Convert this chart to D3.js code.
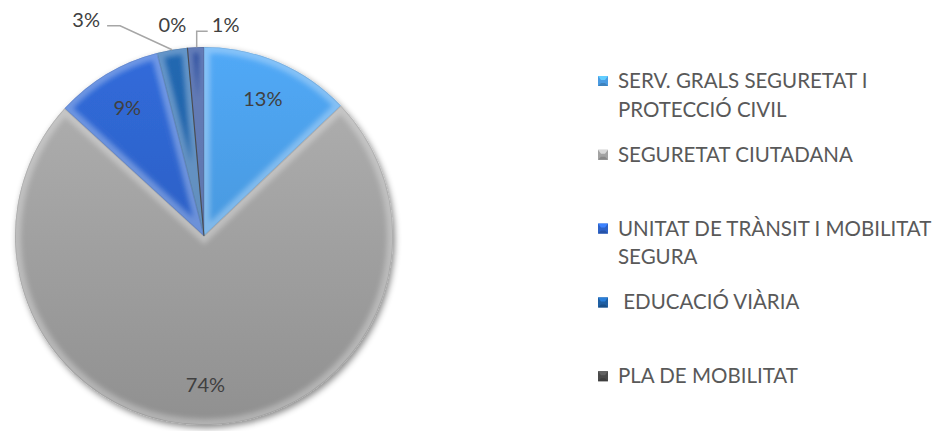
<!DOCTYPE html>
<meta charset="utf-8">
<head>
<style>
  body { margin: 0; background: #fff; }
  svg { display: block; font-family: Lato, "Open Sans", sans-serif; }
  .slice-label { fill: #404040; font-size: 20px; text-anchor: middle; }
  .legend text { fill: #595959; font-size: 20.5px; white-space: pre; }
  .leader { fill: none; stroke: #a6a6a6; stroke-width: 1.5px; }
</style>
</head>
<body>
<script src="https://d3js.org/d3.v7.min.js"></script>
<script>
// data
var categories = ["SERV. GRALS SEGURETAT I PROTECCIÓ CIVIL", "SEGURETAT CIUTADANA",
  "UNITAT DE TRÀNSIT I MOBILITAT SEGURA", " EDUCACIÓ VIÀRIA", "PLA DE MOBILITAT", ""];
var values = [12.9, 73.9, 9.2, 2.6, 0, 1.4];
var labels = ["13%", "74%", "9%", "3%", "0%", "1%"];
var colors = ["#4a9be2", "#a3a3a3", "#2d62c8", "#1f5fa3", "#4a4a4a", "#1c3d8c"];

var width = 944, height = 431;
var cx = 204, cy = 236, radius = 189;

// labels that Excel moved outside the pie: shift from the slice's outer edge
var outside = {
  3: { dx: -86, dy: -30, leader: true },
  4: { dx: -15, dy: -23, leader: false },
  5: { dx: 30, dy: -22, leader: true }
};

var svg = d3.select("body").append("svg")
    .attr("width", width)
    .attr("height", height);

var defs = svg.append("defs");

var shadow = defs.append("filter").attr("id", "shadow")
    .attr("x", "-10%").attr("y", "-10%").attr("width", "125%").attr("height", "125%");
shadow.append("feDropShadow")
    .attr("dx", 2).attr("dy", 3).attr("stdDeviation", 3)
    .attr("flood-color", "#000").attr("flood-opacity", 0.45);

var soft = defs.append("filter").attr("id", "soft");
soft.append("feGaussianBlur").attr("stdDeviation", 2.5);

colors.forEach(function(c, i) {
  var g = defs.append("linearGradient").attr("id", "grad" + i)
      .attr("gradientUnits", "userSpaceOnUse")
      .attr("x1", 0).attr("y1", -radius).attr("x2", 0).attr("y2", radius);
  g.append("stop").attr("offset", 0).attr("stop-color", d3.color(c).brighter(0.25));
  g.append("stop").attr("offset", 1).attr("stop-color", d3.color(c).darker(0.35));
});

var pie = d3.pie().sort(null).value(function(d) { return d; });
var arcs = pie(values);
var arc = d3.arc().innerRadius(0).outerRadius(radius);

var chart = svg.append("g")
    .attr("transform", "translate(" + cx + "," + cy + ")");

var slices = chart.append("g").attr("filter", "url(#shadow)");

arcs.forEach(function(a, i) {
  if (a.endAngle - a.startAngle <= 0) return;
  defs.append("clipPath").attr("id", "clip" + i)
    .append("path").attr("d", arc(a));
  slices.append("path")
      .attr("d", arc(a))
      .attr("fill", "url(#grad" + i + ")");
  // bevel: soft light rim inside each slice
  slices.append("g")
      .attr("clip-path", "url(#clip" + i + ")")
    .append("path")
      .attr("d", arc(a))
      .attr("filter", "url(#soft)")
      .attr("fill", "none")
      .attr("stroke", "#fff")
      .attr("stroke-opacity", 0.3)
      .attr("stroke-width", 12);
  slices.append("path")
      .attr("d", arc(a))
      .attr("clip-path", "url(#clip" + i + ")")
      .attr("fill", "none")
      .attr("stroke", "#000")
      .attr("stroke-opacity", 0.1)
      .attr("stroke-width", 1.5);
});

// zero-size slice still shows as a thin edge
arcs.forEach(function(a, i) {
  if (a.endAngle - a.startAngle > 0) return;
  var p = d3.pointRadial(a.startAngle, radius);
  chart.append("line")
      .attr("x1", 0).attr("y1", 0).attr("x2", p[0]).attr("y2", p[1])
      .attr("stroke", colors[i]).attr("stroke-width", 1);
});

// data labels
var labelArc = d3.arc().innerRadius(radius * 0.79).outerRadius(radius * 0.79);
arcs.forEach(function(a, i) {
  var mid = (a.startAngle + a.endAngle) / 2;
  var pos, o = outside[i];
  if (o) {
    var edge = d3.pointRadial(mid, radius);
    pos = [edge[0] + o.dx, edge[1] + o.dy];
    if (o.leader) {
      var pts;
      if (o.dx < 0) {
        pts = [edge, [pos[0] + 34, pos[1] + 6], [pos[0] + 21, pos[1] + 6]];
      } else {
        pts = [[edge[0] + 1, edge[1]], [edge[0] + 1, pos[1] + 6], [pos[0] - 18, pos[1] + 6]];
      }
      chart.append("path").attr("class", "leader").attr("d", d3.line()(pts));
    }
  } else {
    pos = labelArc.centroid(a);
  }
  chart.append("text")
      .attr("class", "slice-label")
      .attr("x", pos[0])
      .attr("y", pos[1])
      .attr("dy", "0.35em")
      .text(labels[i]);
});

// legend
var legend = svg.append("g").attr("class", "legend")
    .attr("transform", "translate(598,88)");
var step = 73.8, lineH = 28.5, maxW = 326;

categories.forEach(function(name, i) {
  if (!name) return;
  var row = legend.append("g").attr("transform", "translate(0," + (i * step) + ")");
  var c = d3.color(colors[i]);
  row.append("rect").attr("x", 0).attr("y", -12).attr("width", 10).attr("height", 10)
      .attr("fill", c.formatHex());
  row.append("path").attr("d", "M0,-12L10,-12L7,-8L3,-8Z").attr("fill", c.brighter(0.8).formatHex());
  row.append("path").attr("d", "M0,-2L10,-2L7,-5L3,-5Z").attr("fill", c.darker(0.5).formatHex());
  // wrap words to the legend width
  var text = row.append("text").attr("x", 20).attr("y", 0);
  var lead = name.match(/^ */)[0];
  var words = name.trim().split(" ");
  var tspan = text.append("tspan").attr("x", 20).attr("y", 0);
  var line = lead, ln = 0;
  words.forEach(function(w) {
    var test = line.trim() === "" ? line + w : line + " " + w;
    tspan.text(test);
    if (tspan.node().getComputedTextLength() > maxW && line.trim() !== "") {
      tspan.text(line);
      ln++;
      tspan = text.append("tspan").attr("x", 20).attr("y", ln * lineH).text(w);
      line = w;
    } else {
      line = test;
    }
  });
});
</script>
</body>
</html>
